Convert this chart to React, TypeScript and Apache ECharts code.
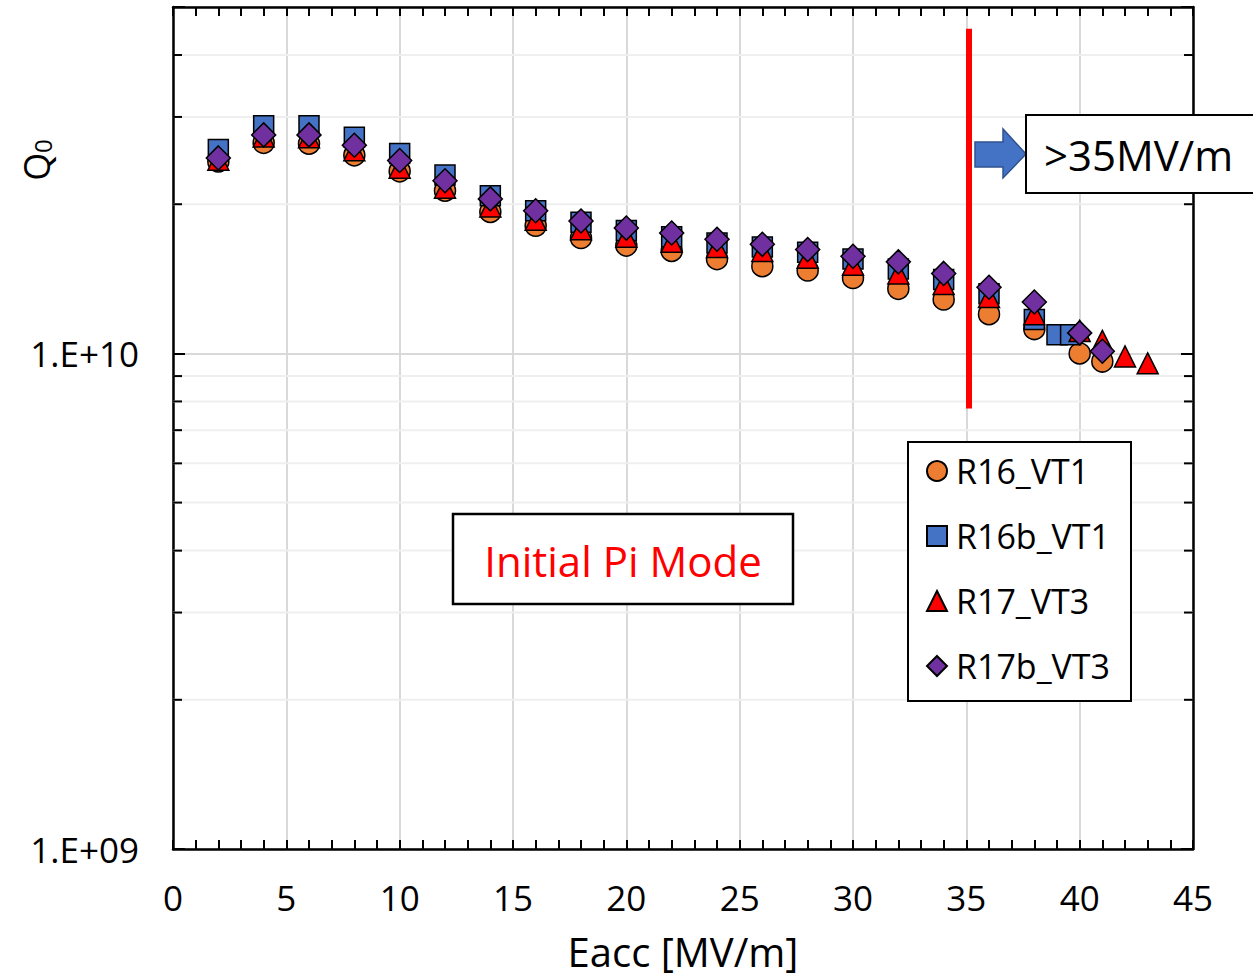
import React, { useEffect, useRef } from 'react';
import * as echarts from 'echarts';

// ---- data (Eacc in MV/m, Q0) ----
const xR16 = [2, 4, 6, 8, 10, 12, 14, 16, 18, 20, 22, 24, 26, 28, 30, 32, 34, 36, 38, 40, 41];
const qR16 = [2.44e10, 2.66e10, 2.65e10, 2.51e10, 2.33e10, 2.13e10, 1.93e10, 1.81e10, 1.71e10, 1.65e10, 1.61e10, 1.55e10, 1.5e10, 1.47e10, 1.42e10, 1.35e10, 1.285e10, 1.2e10, 1.12e10, 1.0e10, 0.963e10];

const xR16b = [2, 4, 6, 8, 10, 12, 14, 16, 18, 20, 22, 24, 26, 28, 30, 32, 34, 36, 38, 39, 39.6];
const qR16b = [2.58e10, 2.88e10, 2.88e10, 2.73e10, 2.53e10, 2.29e10, 2.08e10, 1.94e10, 1.84e10, 1.77e10, 1.72e10, 1.67e10, 1.64e10, 1.6e10, 1.55e10, 1.48e10, 1.41e10, 1.32e10, 1.17e10, 1.09e10, 1.09e10];

const xR17 = [2, 4, 6, 8, 10, 12, 14, 16, 18, 20, 22, 24, 26, 28, 30, 32, 34, 36, 38, 40, 41, 42, 43];
const qR17 = [2.46e10, 2.74e10, 2.73e10, 2.57e10, 2.37e10, 2.16e10, 1.98e10, 1.86e10, 1.78e10, 1.72e10, 1.68e10, 1.64e10, 1.61e10, 1.56e10, 1.51e10, 1.45e10, 1.38e10, 1.3e10, 1.2e10, 1.11e10, 1.06e10, 0.986e10, 0.955e10];

const xR17b = [2, 4, 6, 8, 10, 12, 14, 16, 18, 20, 22, 24, 26, 28, 30, 32, 34, 36, 38, 40, 41];
const qR17b = [2.48e10, 2.76e10, 2.76e10, 2.63e10, 2.45e10, 2.23e10, 2.05e10, 1.94e10, 1.85e10, 1.79e10, 1.75e10, 1.7e10, 1.66e10, 1.62e10, 1.57e10, 1.53e10, 1.45e10, 1.36e10, 1.27e10, 1.1e10, 1.01e10];

const seriesNames = ['R16_VT1', 'R16b_VT1', 'R17_VT3', 'R17b_VT3'];
const minorYTicks = [2e9, 3e9, 4e9, 5e9, 6e9, 7e9, 8e9, 9e9, 2e10, 3e10, 4e10];
const xMin = 0;
const xMax = 45;
const yMin = 1e9;
const yMax = 5e10;
const cutX = 35.1;
const cutTop = 4.52e10;
const cutBottom = 7.74e9;

const FONT = 'Open Sans';

function zip(xs: number[], ys: number[]) {
  return xs.map((x, i) => [x, ys[i]]);
}

function yLabel(v: number) {
  const e = Math.log10(v);
  if (Math.abs(e - Math.round(e)) < 1e-6) {
    return '1.E+' + String(Math.round(e)).padStart(2, '0');
  }
  return '';
}

export default function App() {
  const ref = useRef<HTMLDivElement>(null);

  useEffect(() => {
    document.body.style.margin = '0';
    if (!ref.current) return;
    const chart = echarts.init(ref.current, null, { renderer: 'svg' });

    const border = { borderColor: '#000', borderWidth: 1.5, opacity: 1 };

    const xAxisBase = {
      type: 'value',
      min: xMin,
      max: xMax,
      interval: 5,
      axisLine: { show: true, onZero: false, lineStyle: { color: '#000', width: 2.5 } },
      axisTick: { show: true, inside: true, length: 9, lineStyle: { color: '#000', width: 2 } },
      minorTick: { show: true, splitNumber: 5, length: 9, lineStyle: { color: '#000', width: 2 } },
      minorSplitLine: { show: false },
    };

    const yAxisBase = {
      type: 'log',
      logBase: 10,
      min: yMin,
      max: yMax,
      axisLine: { show: true, onZero: false, lineStyle: { color: '#000', width: 2.5 } },
      axisTick: { show: true, inside: true, length: 12, lineStyle: { color: '#000', width: 2 } },
      minorTick: { show: false },
    };

    chart.setOption({
      animation: false,
      backgroundColor: '#fff',
      textStyle: { fontFamily: FONT },
      grid: { left: 173, right: 60, top: 7, bottom: 131, containLabel: false, outerBoundsMode: 'none' },
      xAxis: [
        {
          ...xAxisBase,
          position: 'bottom',
          name: 'Eacc [MV/m]',
          nameLocation: 'middle',
          nameGap: 82,
          nameTextStyle: { fontSize: 40, color: '#000', fontFamily: FONT },
          axisLabel: { show: true, fontSize: 35, color: '#000', margin: 31, fontFamily: FONT },
          splitLine: { show: true, lineStyle: { color: '#d9d9d9', width: 2 } },
        },
        {
          ...xAxisBase,
          position: 'top',
          axisLabel: { show: false },
          splitLine: { show: false },
        },
      ],
      yAxis: [
        {
          ...yAxisBase,
          position: 'left',
          axisLabel: { show: true, fontSize: 35, color: '#000', margin: 34, fontFamily: FONT, formatter: yLabel },
          splitLine: { show: true, lineStyle: { color: '#d9d9d9', width: 2 } },
        },
        {
          ...yAxisBase,
          position: 'right',
          axisLabel: { show: false },
          splitLine: { show: false },
        },
      ],
      legend: {
        data: seriesNames,
        orient: 'vertical',
        left: 908,
        top: 442,
        backgroundColor: '#fff',
        borderColor: '#000',
        borderWidth: 2,
        borderRadius: 0,
        padding: [12, 21, 18, 18],
        itemGap: 31,
        itemWidth: 20,
        itemHeight: 20,
        textStyle: { fontSize: 34, color: '#000', fontFamily: FONT, padding: [0, 0, 0, 4] },
      },
      series: [
        {
          type: 'custom',
          name: 'minor',
          silent: true,
          z: 1,
          xAxisIndex: 0,
          yAxisIndex: 0,
          data: minorYTicks.map((v) => [xMin, v]),
          renderItem: (_params: any, api: any) => {
            const v = api.value(1);
            const p0 = api.coord([xMin, v]);
            const p1 = api.coord([xMax, v]);
            return {
              type: 'group',
              children: [
                { type: 'line', shape: { x1: p0[0], y1: p0[1], x2: p1[0], y2: p1[1] }, style: { stroke: '#efefef', lineWidth: 2 } },
                { type: 'line', shape: { x1: p0[0], y1: p0[1], x2: p0[0] + 9, y2: p0[1] }, style: { stroke: '#000', lineWidth: 2 } },
                { type: 'line', shape: { x1: p1[0] - 9, y1: p1[1], x2: p1[0], y2: p1[1] }, style: { stroke: '#000', lineWidth: 2 } },
              ],
            };
          },
        },
        {
          type: 'scatter',
          name: seriesNames[0],
          symbol: 'circle',
          symbolSize: 21,
          z: 3,
          itemStyle: { color: '#ED7D31', ...border },
          data: zip(xR16, qR16),
          markLine: {
            silent: true,
            symbol: 'none',
            label: { show: false },
            lineStyle: { color: '#FF0000', width: 6, type: 'solid', opacity: 1 },
            data: [[{ coord: [cutX, cutTop] }, { coord: [cutX, cutBottom] }]],
          },
        },
        {
          type: 'scatter',
          name: seriesNames[1],
          symbol: 'rect',
          symbolSize: 20,
          z: 4,
          itemStyle: { color: '#4472C4', ...border },
          data: zip(xR16b, qR16b),
        },
        {
          type: 'scatter',
          name: seriesNames[2],
          symbol: 'triangle',
          symbolSize: 21,
          z: 5,
          itemStyle: { color: '#FF0000', ...border },
          data: zip(xR17, qR17),
        },
        {
          type: 'scatter',
          name: seriesNames[3],
          symbol: 'diamond',
          symbolSize: 24,
          z: 6,
          itemStyle: { color: '#7030A0', ...border },
          data: zip(xR17b, qR17b),
        },
      ],
      graphic: [
        {
          type: 'text',
          x: 34,
          y: 160,
          rotation: Math.PI / 2,
          style: {
            text: '{q|Q}{s|0}',
            align: 'center',
            verticalAlign: 'middle',
            fill: '#000',
            rich: {
              q: { fontSize: 36, fontFamily: FONT, fill: '#000', lineHeight: 40, verticalAlign: 'bottom' },
              s: { fontSize: 24, fontFamily: FONT, fill: '#000', lineHeight: 26, verticalAlign: 'bottom' },
            },
          },
        },
        {
          type: 'polygon',
          z: 10,
          shape: { points: [[975, 142], [1003, 142], [1003, 129], [1026, 154], [1003, 178], [1003, 167], [975, 167]] },
          style: { fill: '#4472C4', stroke: '#2F528F', lineWidth: 1.5 },
        },
        {
          type: 'rect',
          z: 10,
          shape: { x: 1026, y: 115, width: 240, height: 78 },
          style: { fill: '#fff', stroke: '#000', lineWidth: 2 },
        },
        {
          type: 'text',
          z: 11,
          x: 1044,
          y: 154,
          style: { text: '>35MV/m', fontSize: 42, fontFamily: FONT, fill: '#000', verticalAlign: 'middle', align: 'left' },
        },
        {
          type: 'rect',
          z: 10,
          shape: { x: 453, y: 514, width: 340, height: 90 },
          style: { fill: '#fff', stroke: '#000', lineWidth: 2.5 },
        },
        {
          type: 'text',
          z: 11,
          x: 623,
          y: 560,
          style: { text: 'Initial Pi Mode', fontSize: 42, fontFamily: FONT, fill: '#FF0000', verticalAlign: 'middle', align: 'center' },
        },
      ],
    });

    return () => {
      chart.dispose();
    };
  }, []);

  return <div ref={ref} style={{ width: 1253, height: 980 }} />;
}
